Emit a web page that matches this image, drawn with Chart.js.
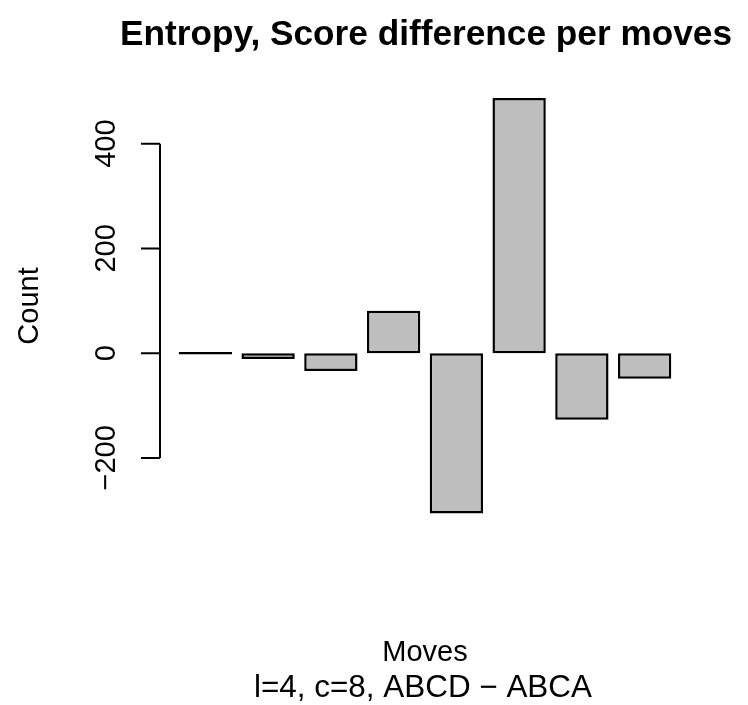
<!DOCTYPE html>
<html>
<head>
<meta charset="utf-8">
<script src="https://cdn.jsdelivr.net/npm/chart.js@4"></script>
<style>
html,body{margin:0;padding:0;background:#fff;}
canvas{display:block;}
</style>
</head>
<body>
<canvas id="c" width="748" height="705"></canvas>
<script>
const categories = ["1","2","3","4","5","6","7","8"];
const counts = [0, -11, -34, 81, -306, 487, -127, -49];
const yTicks = [-200, 0, 200, 400];
const yMin = -337.7;
const yMax = 517.7;
const titleText = "Entropy, Score difference per moves";
const xLabel = "Moves";
const subLabel = "l=4, c=8, ABCD \u2212 ABCA";
const yLabel = "Count";

const FONT = "'Liberation Sans', Arial, Helvetica, sans-serif";

function fitFont(ctx, text, weight, target) {
  ctx.font = weight + '100px ' + FONT;
  const w = ctx.measureText(text).width;
  ctx.font = weight + (100 * target / w).toFixed(2) + 'px ' + FONT;
}

const rAxisPlugin = {
  id: 'rAxis',
  afterDraw(chart) {
    const ctx = chart.ctx;
    const ys = chart.scales.y;
    const axisX = 160;
    const tickLen = 19;
    ctx.save();
    ctx.strokeStyle = '#000';
    ctx.lineWidth = 2;
    ctx.beginPath();
    ctx.moveTo(axisX, ys.getPixelForValue(yTicks[0]));
    ctx.lineTo(axisX, ys.getPixelForValue(yTicks[yTicks.length - 1]));
    yTicks.forEach(v => {
      const py = ys.getPixelForValue(v);
      ctx.moveTo(axisX - tickLen, py);
      ctx.lineTo(axisX, py);
    });
    ctx.stroke();
    ctx.fillStyle = '#000';
    ctx.font = '29px ' + FONT;
    ctx.textAlign = 'center';
    ctx.textBaseline = 'alphabetic';
    yTicks.forEach(v => {
      const py = ys.getPixelForValue(v);
      const txt = v < 0 ? '\u2212' + Math.abs(v) : String(v);
      ctx.save();
      ctx.translate(115, py);
      ctx.rotate(-Math.PI / 2);
      ctx.fillText(txt, 0, 0);
      ctx.restore();
    });
    // y label
    ctx.save();
    ctx.translate(38, 306);
    ctx.rotate(-Math.PI / 2);
    ctx.fillText(yLabel, 0, 0);
    ctx.restore();
    // x labels
    const cx = 425;
    ctx.fillText(xLabel, cx, 661);
    fitFont(ctx, subLabel, '', 338);
    ctx.fillText(subLabel, cx - 2, 697);
    // title
    fitFont(ctx, titleText, 'bold ', 612);
    ctx.fillText(titleText, 426, 45);
    ctx.restore();
  }
};

new Chart(document.getElementById('c'), {
  type: 'bar',
  data: {
    labels: categories,
    datasets: [{
      data: counts,
      backgroundColor: '#BEBEBE',
      borderColor: '#000',
      borderWidth: 2.5,
      borderSkipped: false,
      minBarLength: 2.5,
      barPercentage: 0.85,
      categoryPercentage: 1
    }]
  },
  options: {
    responsive: false,
    animation: false,
    layout: { padding: { left: 174, right: 72, top: 82, bottom: 175 } },
    plugins: { legend: { display: false }, title: { display: false }, tooltip: { enabled: false } },
    scales: {
      x: { display: false, offset: true },
      y: { display: false, min: yMin, max: yMax }
    }
  },
  plugins: [rAxisPlugin]
});
</script>
</body>
</html>
